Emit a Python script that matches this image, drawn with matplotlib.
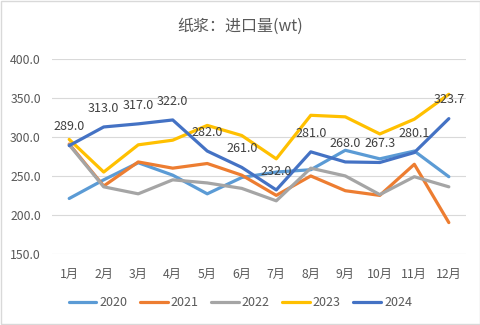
import matplotlib.pyplot as plt
from matplotlib.patches import Rectangle

plt.rcParams['font.family'] = ['Noto Sans CJK SC', 'DejaVu Sans']

months = ['1月', '2月', '3月', '4月', '5月', '6月', '7月', '8月', '9月', '10月', '11月', '12月']
years = ['2020', '2021', '2022', '2023', '2024']
colors = ['#5B9BD5', '#ED7D31', '#A5A5A5', '#FFC000', '#4472C4']

v2020 = [221, 245, 267, 251, 227, 248, 255, 258, 283, 272, 282, 249]
v2021 = [291, 237, 268, 260, 266, 251, 225, 250, 231, 225, 265, 190]
v2022 = [290, 236, 227, 245, 241, 234, 218, 260, 250, 226, 249, 236]
v2023 = [297, 255, 290, 296, 315, 302, 272, 328, 326, 304, 323, 355]
v2024 = [289.0, 313.0, 317.0, 322.0, 282.0, 261.0, 232.0, 281.0, 268.0, 267.3, 280.1, 323.7]

series = [v2020, v2021, v2022, v2023, v2024]

fig = plt.figure(figsize=(4.81, 3.25), dpi=100)
ax = fig.add_axes([0.108, 0.2194, 0.861, 0.5981])

x = range(len(months))
for name, vals, c in zip(years, series, colors):
    ax.plot(x, vals, color=c, lw=2.3, label=name, solid_capstyle='round')

# data labels for 2024
for i, v in enumerate(v2024):
    ax.annotate(f'{v:.1f}', (i, v), xytext=(0, 13.5), textcoords='offset points',
                ha='center', va='center', fontsize=9, color='#404040')

ax.set_xlim(-0.5, 11.5)
ax.set_ylim(150, 400)
ax.set_yticks([150, 200, 250, 300, 350, 400])
ax.set_yticklabels([f'{t:.1f}' for t in [150, 200, 250, 300, 350, 400]])
ax.set_xticks(list(x))
ax.set_xticklabels(months)
ax.tick_params(length=0, labelsize=8.8, colors='#595959', pad=8)
ax.tick_params(axis='x', pad=10)
ax.grid(axis='y', color='#D9D9D9', lw=0.8)
ax.set_axisbelow(True)
for s in ax.spines.values():
    s.set_visible(False)

fig.text(0.5, 0.918, '纸浆：进口量(wt)', ha='center', va='center', fontsize=11.5, color='#595959')

fig.legend(loc='center', bbox_to_anchor=(0.5, 0.068), ncol=5, frameon=False,
           fontsize=9, handlelength=2.2, columnspacing=1.0, handletextpad=0.25,
           labelcolor='#595959')

fig.patches.append(Rectangle((0.002, 0.003), 0.996, 0.994, transform=fig.transFigure,
                             fill=False, edgecolor='#D9D9D9', lw=1))

fig.savefig('out.png', dpi=100)
